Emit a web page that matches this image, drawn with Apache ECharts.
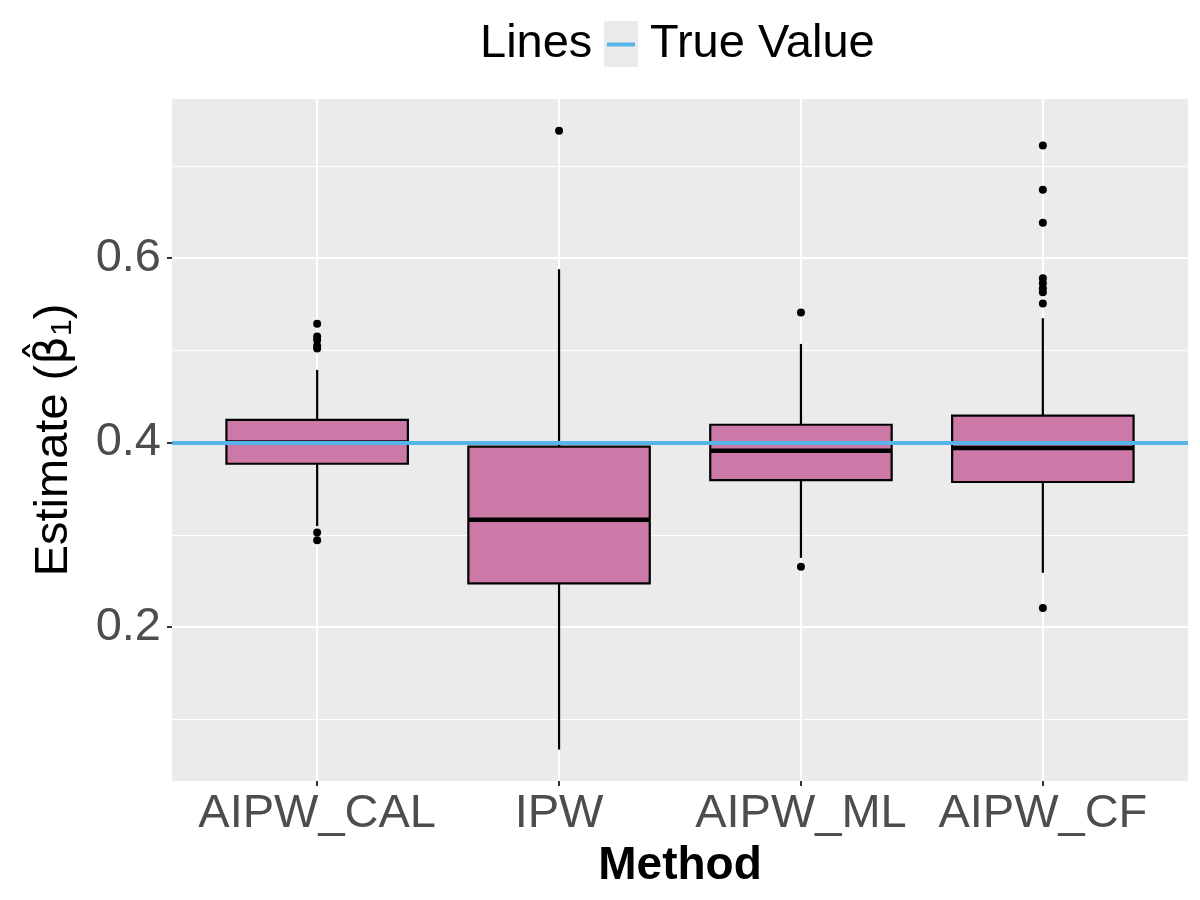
<!DOCTYPE html>
<html>
<head>
<meta charset="utf-8">
<title>Estimate by Method</title>
<script src="https://cdn.jsdelivr.net/npm/echarts@6/dist/echarts.min.js"></script>
<style>
  html, body { margin: 0; padding: 0; background: #fff; }
  #chart { width: 1200px; height: 900px; }
</style>
</head>
<body>
<div id="chart"></div>
<script>
// categories and box statistics
const methods = ['AIPW_CAL', 'IPW', 'AIPW_ML', 'AIPW_CF'];
const lowerWhisker = [0.3094, 0.0672, 0.2750, 0.2588];
const q1 = [0.3770, 0.2473, 0.3593, 0.3572];
const medians = [0.4000, 0.3163, 0.3911, 0.3941];
const q3 = [0.4245, 0.3955, 0.4193, 0.4291];
const upperWhisker = [0.4787, 0.5879, 0.5069, 0.5348];
// outliers per method
const outliers = [
  [0.5289, 0.5150, 0.5112, 0.5050, 0.5020, 0.3026, 0.2942],
  [0.7380],
  [0.5409, 0.2653],
  [0.7220, 0.6740, 0.6382, 0.5782, 0.5727, 0.5673, 0.5630, 0.5506, 0.2205]
];
const trueValue = 0.4;
const yMin = 0.0331;
const yMax = 0.7724;
const majorTicks = [0.2, 0.4, 0.6];
const minorTicks = [0.1, 0.3, 0.5, 0.7];

// box only (whiskers drawn separately, ggplot style without end caps)
const boxData = methods.map((m, i) => [q1[i], q1[i], medians[i], q3[i], q3[i]]);
const whiskerData = methods.map((m, i) => [i, lowerWhisker[i], q1[i], q3[i], upperWhisker[i]]);
const medianData = methods.map((m, i) => [m, medians[i]]);
const outlierData = [];
outliers.forEach((list, i) => {
  list.forEach(v => outlierData.push([methods[i], v]));
});

const myChart = echarts.init(document.getElementById('chart'));
const font = 'Liberation Sans, Arial, sans-serif';

function renderWhisker(params, api) {
  const i = api.value(0);
  const lo = api.coord([i, api.value(1)]);
  const b = api.coord([i, api.value(2)]);
  const t = api.coord([i, api.value(3)]);
  const hi = api.coord([i, api.value(4)]);
  const style = { stroke: '#000', lineWidth: 2.2 };
  return {
    type: 'group',
    children: [
      { type: 'line', shape: { x1: lo[0], y1: lo[1], x2: b[0], y2: b[1] }, style: style },
      { type: 'line', shape: { x1: t[0], y1: t[1], x2: hi[0], y2: hi[1] }, style: style }
    ]
  };
}

const option = {
  animation: false,
  textStyle: { fontFamily: font },
  title: {
    text: 'Lines',
    left: 480,
    top: 21,
    padding: 0,
    textStyle: { fontSize: 47, fontWeight: 'normal', color: '#000', fontFamily: font }
  },
  legend: {
    data: ['True Value'],
    left: 607,
    top: 21,
    padding: 0,
    icon: 'rect',
    itemWidth: 28,
    itemHeight: 4,
    selectedMode: false,
    textStyle: { fontSize: 47, color: '#000', fontFamily: font, padding: [0, 0, 0, 10] }
  },
  graphic: [
    // grey key background behind the legend line
    { type: 'rect', left: 604, top: 21, shape: { width: 34, height: 46 }, style: { fill: '#EBEBEB' }, z: 0 }
  ],
  grid: [
    { left: 172, top: 99, width: 1016, height: 682, show: true, backgroundColor: '#EBEBEB', borderWidth: 0 },
    { left: 196.2, top: 99, width: 967.6, height: 682, show: false }
  ],
  xAxis: [
    { type: 'value', gridIndex: 0, min: 0, max: 1, show: false },
    {
      type: 'category',
      gridIndex: 1,
      data: methods,
      axisLine: { show: false },
      axisTick: { show: true, interval: 0, alignWithLabel: true, length: 5, lineStyle: { color: '#333', width: 2 } },
      axisLabel: { interval: 0, fontSize: 47, color: '#4D4D4D', margin: 10, fontFamily: font },
      splitLine: { show: true, interval: 0, alignWithLabel: true, lineStyle: { color: '#fff', width: 2 } },
      name: 'Method',
      nameLocation: 'middle',
      nameGap: 58,
      nameTextStyle: { fontSize: 46, fontWeight: 'bold', color: '#000', fontFamily: font }
    }
  ],
  yAxis: [
    {
      type: 'value',
      gridIndex: 0,
      min: yMin,
      max: yMax,
      axisLine: { show: false },
      axisTick: { show: true, customValues: majorTicks, length: 5, lineStyle: { color: '#333', width: 2 } },
      axisLabel: {
        customValues: majorTicks,
        formatter: v => v.toFixed(1),
        fontSize: 47,
        color: '#4D4D4D',
        margin: 11,
        fontFamily: font
      },
      splitLine: { show: true, lineStyle: { color: '#fff', width: 2 } },
      name: '{n|Estimate (}{b|β̂}{s|1}{n|)}',
      nameLocation: 'middle',
      nameGap: 94,
      nameTextStyle: {
        color: '#000',
        rich: {
          n: { fontSize: 47, color: '#000', fontFamily: font, verticalAlign: 'middle' },
          b: { fontSize: 45, color: '#000', fontFamily: 'DejaVu Sans', verticalAlign: 'middle' },
          s: { fontSize: 30, color: '#000', fontFamily: font, verticalAlign: 'bottom' }
        }
      }
    },
    {
      type: 'value',
      gridIndex: 0,
      min: yMin,
      max: yMax,
      axisLine: { show: false },
      axisTick: { show: false, customValues: minorTicks },
      axisLabel: { show: false },
      splitLine: { show: true, lineStyle: { color: '#fff', width: 1 } }
    },
    { type: 'value', gridIndex: 1, min: yMin, max: yMax, show: false }
  ],
  series: [
    {
      name: 'Whiskers',
      type: 'custom',
      xAxisIndex: 1,
      yAxisIndex: 2,
      data: whiskerData,
      encode: { x: 0, y: [1, 2, 3, 4] },
      renderItem: renderWhisker,
      silent: true,
      z: 1
    },
    {
      name: 'Estimate',
      type: 'boxplot',
      xAxisIndex: 1,
      yAxisIndex: 2,
      data: boxData,
      boxWidth: ['75%', '75%'],
      itemStyle: { color: '#CC79A7', borderColor: '#000', borderWidth: 2.2 },
      emphasis: { disabled: true },
      silent: true,
      z: 2
    },
    {
      name: 'Median',
      type: 'scatter',
      xAxisIndex: 1,
      yAxisIndex: 2,
      data: medianData,
      symbol: 'rect',
      symbolSize: [182, 4.4],
      itemStyle: { color: '#000', opacity: 1 },
      silent: true,
      z: 3
    },
    {
      name: 'Outliers',
      type: 'scatter',
      xAxisIndex: 1,
      yAxisIndex: 2,
      data: outlierData,
      symbolSize: 8,
      itemStyle: { color: '#000', opacity: 1 },
      silent: true,
      z: 3
    },
    {
      name: 'True Value',
      type: 'line',
      xAxisIndex: 0,
      yAxisIndex: 0,
      data: [],
      itemStyle: { color: '#56B4E9' },
      lineStyle: { color: '#56B4E9', width: 4 },
      z: 10,
      markLine: {
        silent: true,
        symbol: 'none',
        label: { show: false },
        lineStyle: { color: '#56B4E9', width: 4, type: 'solid' },
        z: 10,
        data: [{ yAxis: trueValue }]
      }
    }
  ]
};
myChart.setOption(option);
</script>
</body>
</html>
